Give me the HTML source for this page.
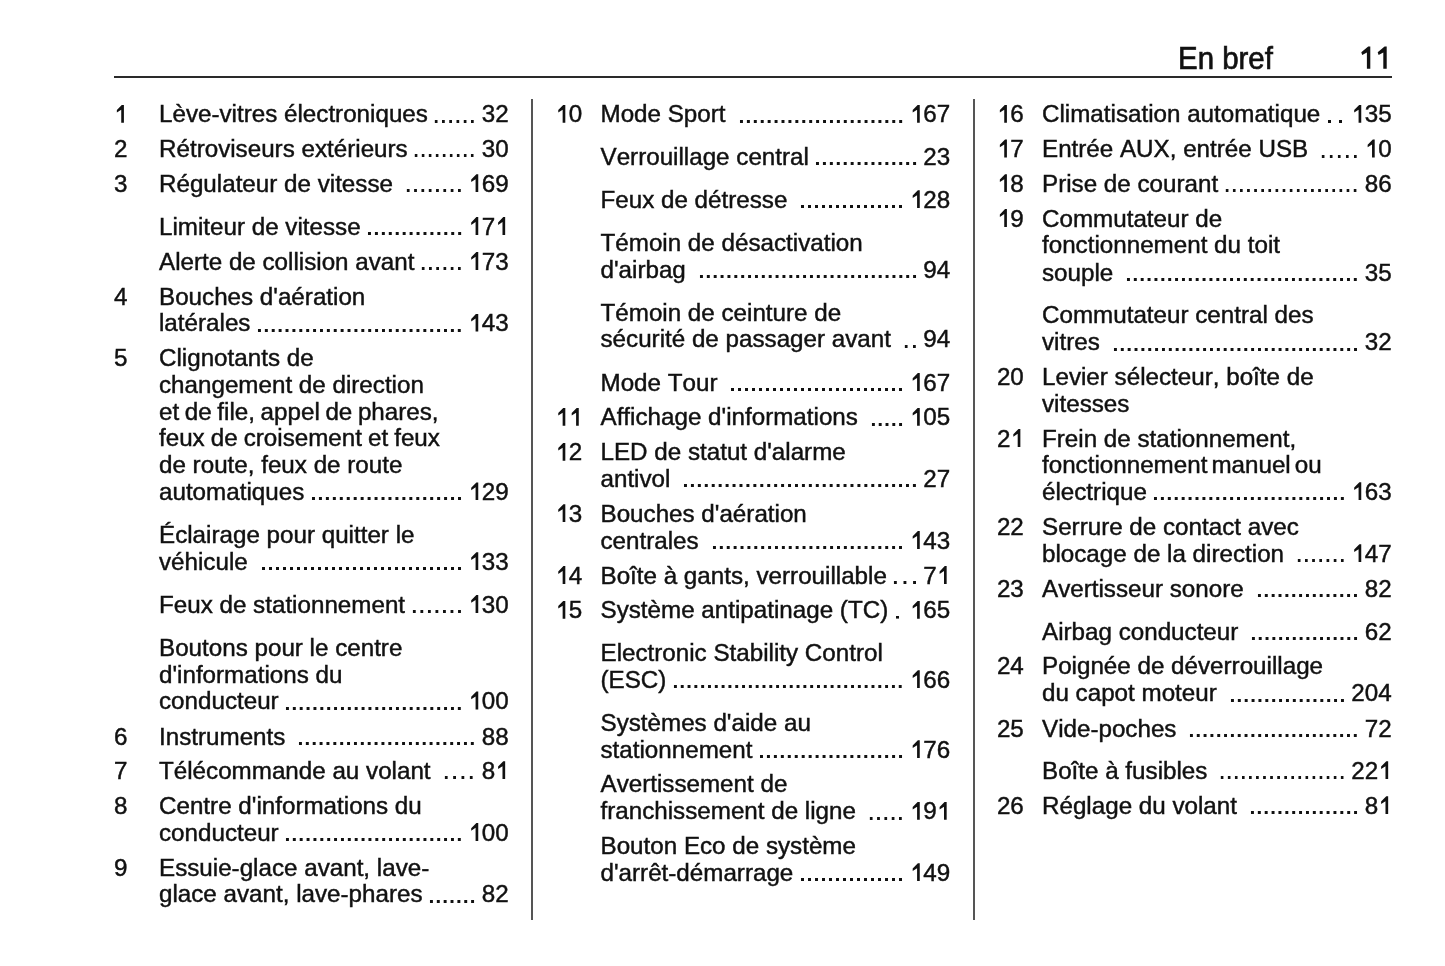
<!DOCTYPE html>
<html><head><meta charset="utf-8"><title>En bref 11</title>
<style>
html,body{margin:0;padding:0;background:#fff;}
body{width:1445px;height:966px;position:relative;overflow:hidden;will-change:transform;font-family:"Liberation Sans",sans-serif;color:#111;font-kerning:none;}
.hd{position:absolute;font-size:32px;line-height:36px;white-space:nowrap;transform-origin:0 0;transform:scaleX(0.92);-webkit-text-stroke:0.7px #111;}
.rule{position:absolute;background:#2a2a2a;}
.vr{position:absolute;background:#555;width:1.7px;}
.n{position:absolute;font-size:24.2px;line-height:27px;white-space:nowrap;-webkit-text-stroke:0.45px #111;}
.l{position:absolute;font-size:24.2px;line-height:27px;white-space:nowrap;display:flex;-webkit-text-stroke:0.45px #111;}
.l .t{flex:none;}
.l .d{flex:1 1 auto;margin:0 5.5px 0 5.5px;background-image:linear-gradient(90deg,transparent 2.1px,#111 2.1px,#111 4.7px,transparent 4.7px);background-size:6.8px 2.6px;background-repeat:space no-repeat;background-position:0 19.45px;}
.l .d.sp{margin-left:12.0px;}
.l .d.t8{background-size:8px 2.6px;}
.l .d.t9{background-size:9px 2.6px;}
.l .d.t10{background-size:10px 2.6px;}
.l .d.t14{background-size:14px 2.6px;}
.l .p{flex:none;}
.o{position:relative;color:transparent;-webkit-text-stroke:0 transparent;font-style:normal;}
.o::before{content:"";position:absolute;left:0;width:0.5562em;bottom:0.19em;height:0.745em;background:#111;-webkit-text-stroke:0;clip-path:polygon(74.5% 100%,54.6% 100%,54.6% 27.5%,22% 43.5%,22% 29.5%,60.5% 0%,74.5% 0%);}
</style></head><body>

<div class="n" style="left:113.9px;top:100.3px"><i class="o">1</i></div>
<div class="l" style="left:159.0px;top:100.3px;width:349.6px"><span class="t">Lève-vitres électroniques</span><span class="d"></span><span class="p">32</span></div>
<div class="n" style="left:113.9px;top:135.0px">2</div>
<div class="l" style="left:159.0px;top:135.0px;width:349.6px"><span class="t">Rétroviseurs extérieurs</span><span class="d"></span><span class="p">30</span></div>
<div class="n" style="left:113.9px;top:169.9px">3</div>
<div class="l" style="left:159.0px;top:169.9px;width:349.6px"><span class="t">Régulateur de vitesse</span><span class="d sp"></span><span class="p"><i class="o">1</i>69</span></div>
<div class="l" style="left:159.0px;top:212.7px;width:349.6px"><span class="t">Limiteur de vitesse</span><span class="d"></span><span class="p"><i class="o">1</i>7<i class="o">1</i></span></div>
<div class="l" style="left:159.0px;top:247.5px;width:349.6px"><span class="t">Alerte de collision avant</span><span class="d"></span><span class="p"><i class="o">1</i>73</span></div>
<div class="n" style="left:113.9px;top:282.5px">4</div>
<div class="l" style="left:159.0px;top:282.5px">Bouches d'aération</div>
<div class="l" style="left:159.0px;top:309.2px;width:349.6px"><span class="t">latérales</span><span class="d"></span><span class="p"><i class="o">1</i>43</span></div>
<div class="n" style="left:113.9px;top:344.1px">5</div>
<div class="l" style="left:159.0px;top:344.1px">Clignotants de</div>
<div class="l" style="left:159.0px;top:370.7px">changement de direction</div>
<div class="l" style="left:159.0px;top:397.8px"><span style="word-spacing:-1.1px">et de file, appel de phares,</span></div>
<div class="l" style="left:159.0px;top:424.2px"><span style="word-spacing:-0.7px">feux de croisement et feux</span></div>
<div class="l" style="left:159.0px;top:451.2px">de route, feux de route</div>
<div class="l" style="left:159.0px;top:478.0px;width:349.6px"><span class="t">automatiques</span><span class="d"></span><span class="p"><i class="o">1</i>29</span></div>
<div class="l" style="left:159.0px;top:521.2px">Éclairage pour quitter le</div>
<div class="l" style="left:159.0px;top:547.9px;width:349.6px"><span class="t">véhicule</span><span class="d sp"></span><span class="p"><i class="o">1</i>33</span></div>
<div class="l" style="left:159.0px;top:590.6px;width:349.6px"><span class="t">Feux de stationnement</span><span class="d"></span><span class="p"><i class="o">1</i>30</span></div>
<div class="l" style="left:159.0px;top:633.9px">Boutons pour le centre</div>
<div class="l" style="left:159.0px;top:660.5px">d'informations du</div>
<div class="l" style="left:159.0px;top:687.1px;width:349.6px"><span class="t">conducteur</span><span class="d"></span><span class="p"><i class="o">1</i>00</span></div>
<div class="n" style="left:113.9px;top:722.5px">6</div>
<div class="l" style="left:159.0px;top:722.5px;width:349.6px"><span class="t">Instruments</span><span class="d sp"></span><span class="p">88</span></div>
<div class="n" style="left:113.9px;top:756.9px">7</div>
<div class="l" style="left:159.0px;top:756.9px;width:349.6px"><span class="t">Télécommande au volant</span><span class="d sp t8"></span><span class="p">8<i class="o">1</i></span></div>
<div class="n" style="left:113.9px;top:791.7px">8</div>
<div class="l" style="left:159.0px;top:791.7px">Centre d'informations du</div>
<div class="l" style="left:159.0px;top:818.5px;width:349.6px"><span class="t">conducteur</span><span class="d"></span><span class="p"><i class="o">1</i>00</span></div>
<div class="n" style="left:113.9px;top:853.5px">9</div>
<div class="l" style="left:159.0px;top:853.5px">Essuie-glace avant, lave-</div>
<div class="l" style="left:159.0px;top:880.3px;width:349.6px"><span class="t">glace avant, lave-phares</span><span class="d"></span><span class="p">82</span></div>
<div class="n" style="left:555.3px;top:100.4px"><i class="o">1</i>0</div>
<div class="l" style="left:600.5px;top:100.4px;width:349.6px"><span class="t">Mode Sport</span><span class="d sp"></span><span class="p"><i class="o">1</i>67</span></div>
<div class="l" style="left:600.5px;top:143.0px;width:349.6px"><span class="t">Verrouillage central</span><span class="d"></span><span class="p">23</span></div>
<div class="l" style="left:600.5px;top:185.9px;width:349.6px"><span class="t">Feux de détresse</span><span class="d sp"></span><span class="p"><i class="o">1</i>28</span></div>
<div class="l" style="left:600.5px;top:228.8px">Témoin de désactivation</div>
<div class="l" style="left:600.5px;top:255.7px;width:349.6px"><span class="t">d'airbag</span><span class="d sp"></span><span class="p">94</span></div>
<div class="l" style="left:600.5px;top:298.5px">Témoin de ceinture de</div>
<div class="l" style="left:600.5px;top:325.3px;width:349.6px"><span class="t">sécurité de passager avant</span><span class="d sp"></span><span class="p">94</span></div>
<div class="l" style="left:600.5px;top:368.6px;width:349.6px"><span class="t">Mode Tour</span><span class="d sp"></span><span class="p"><i class="o">1</i>67</span></div>
<div class="n" style="left:555.3px;top:403.4px"><i class="o">1</i><i class="o">1</i></div>
<div class="l" style="left:600.5px;top:403.4px;width:349.6px"><span class="t">Affichage d'informations</span><span class="d sp"></span><span class="p"><i class="o">1</i>05</span></div>
<div class="n" style="left:555.3px;top:438.3px"><i class="o">1</i>2</div>
<div class="l" style="left:600.5px;top:438.3px">LED de statut d'alarme</div>
<div class="l" style="left:600.5px;top:465.0px;width:349.6px"><span class="t">antivol</span><span class="d sp"></span><span class="p">27</span></div>
<div class="n" style="left:555.3px;top:499.9px"><i class="o">1</i>3</div>
<div class="l" style="left:600.5px;top:499.9px">Bouches d'aération</div>
<div class="l" style="left:600.5px;top:526.6px;width:349.6px"><span class="t">centrales</span><span class="d sp"></span><span class="p"><i class="o">1</i>43</span></div>
<div class="n" style="left:555.3px;top:561.7px"><i class="o">1</i>4</div>
<div class="l" style="left:600.5px;top:561.7px;width:349.6px"><span class="t">Boîte à gants, verrouillable</span><span class="d"></span><span class="p">7<i class="o">1</i></span></div>
<div class="n" style="left:555.3px;top:596.3px"><i class="o">1</i>5</div>
<div class="l" style="left:600.5px;top:596.3px;width:349.6px"><span class="t">Système antipatinage (TC)</span><span class="d t9"></span><span class="p"><i class="o">1</i>65</span></div>
<div class="l" style="left:600.5px;top:639.1px">Electronic Stability Control</div>
<div class="l" style="left:600.5px;top:665.9px;width:349.6px"><span class="t">(ESC)</span><span class="d"></span><span class="p"><i class="o">1</i>66</span></div>
<div class="l" style="left:600.5px;top:708.6px">Systèmes d'aide au</div>
<div class="l" style="left:600.5px;top:735.8px;width:349.6px"><span class="t">stationnement</span><span class="d"></span><span class="p"><i class="o">1</i>76</span></div>
<div class="l" style="left:600.5px;top:770.4px">Avertissement de</div>
<div class="l" style="left:600.5px;top:797.3px;width:349.6px"><span class="t">franchissement de ligne</span><span class="d sp"></span><span class="p"><i class="o">1</i>9<i class="o">1</i></span></div>
<div class="l" style="left:600.5px;top:832.2px">Bouton Eco de système</div>
<div class="l" style="left:600.5px;top:858.8px;width:349.6px"><span class="t">d'arrêt-démarrage</span><span class="d"></span><span class="p"><i class="o">1</i>49</span></div>
<div class="n" style="left:996.9px;top:100.4px"><i class="o">1</i>6</div>
<div class="l" style="left:1042.0px;top:100.4px;width:349.6px"><span class="t">Climatisation automatique</span><span class="d t9"></span><span class="p"><i class="o">1</i>35</span></div>
<div class="n" style="left:996.9px;top:135.1px"><i class="o">1</i>7</div>
<div class="l" style="left:1042.0px;top:135.1px;width:349.6px"><span class="t">Entrée AUX, entrée USB</span><span class="d sp"></span><span class="p"><i class="o">1</i>0</span></div>
<div class="n" style="left:996.9px;top:169.9px"><i class="o">1</i>8</div>
<div class="l" style="left:1042.0px;top:169.9px;width:349.6px"><span class="t">Prise de courant</span><span class="d"></span><span class="p">86</span></div>
<div class="n" style="left:996.9px;top:204.7px"><i class="o">1</i>9</div>
<div class="l" style="left:1042.0px;top:204.7px">Commutateur de</div>
<div class="l" style="left:1042.0px;top:231.2px">fonctionnement du toit</div>
<div class="l" style="left:1042.0px;top:258.7px;width:349.6px"><span class="t">souple</span><span class="d sp"></span><span class="p">35</span></div>
<div class="l" style="left:1042.0px;top:301.4px">Commutateur central des</div>
<div class="l" style="left:1042.0px;top:328.2px;width:349.6px"><span class="t">vitres</span><span class="d sp"></span><span class="p">32</span></div>
<div class="n" style="left:996.9px;top:363.0px">20</div>
<div class="l" style="left:1042.0px;top:363.0px">Levier sélecteur, boîte de</div>
<div class="l" style="left:1042.0px;top:389.8px">vitesses</div>
<div class="n" style="left:996.9px;top:424.5px">2<i class="o">1</i></div>
<div class="l" style="left:1042.0px;top:424.5px">Frein de stationnement,</div>
<div class="l" style="left:1042.0px;top:451.3px"><span style="word-spacing:-2.7px">fonctionnement manuel ou</span></div>
<div class="l" style="left:1042.0px;top:477.8px;width:349.6px"><span class="t">électrique</span><span class="d"></span><span class="p"><i class="o">1</i>63</span></div>
<div class="n" style="left:996.9px;top:513.1px">22</div>
<div class="l" style="left:1042.0px;top:513.1px">Serrure de contact avec</div>
<div class="l" style="left:1042.0px;top:539.8px;width:349.6px"><span class="t">blocage de la direction</span><span class="d sp"></span><span class="p"><i class="o">1</i>47</span></div>
<div class="n" style="left:996.9px;top:574.6px">23</div>
<div class="l" style="left:1042.0px;top:574.6px;width:349.6px"><span class="t">Avertisseur sonore</span><span class="d sp"></span><span class="p">82</span></div>
<div class="l" style="left:1042.0px;top:617.8px;width:349.6px"><span class="t">Airbag conducteur</span><span class="d sp"></span><span class="p">62</span></div>
<div class="n" style="left:996.9px;top:652.4px">24</div>
<div class="l" style="left:1042.0px;top:652.4px">Poignée de déverrouillage</div>
<div class="l" style="left:1042.0px;top:679.3px;width:349.6px"><span class="t">du capot moteur</span><span class="d sp"></span><span class="p">204</span></div>
<div class="n" style="left:996.9px;top:714.5px">25</div>
<div class="l" style="left:1042.0px;top:714.5px;width:349.6px"><span class="t">Vide-poches</span><span class="d sp"></span><span class="p">72</span></div>
<div class="l" style="left:1042.0px;top:756.9px;width:349.6px"><span class="t">Boîte à fusibles</span><span class="d sp"></span><span class="p">22<i class="o">1</i></span></div>
<div class="n" style="left:996.9px;top:791.9px">26</div>
<div class="l" style="left:1042.0px;top:791.9px;width:349.6px"><span class="t">Réglage du volant</span><span class="d sp"></span><span class="p">8<i class="o">1</i></span></div>
<div class="hd" style="left:1178.2px;top:39.6px">En bref</div>
<div class="hd" style="left:1358px;top:39.6px;color:transparent;-webkit-text-stroke:0 transparent">11</div>
<svg style="position:absolute;left:0;top:0" width="1445" height="100" viewBox="0 0 1445 100"><g fill="#111"><polygon points="1370.3,46.6 1370.3,68.65 1366.9,68.65 1366.9,52.6 1362.2,55.0 1361.3,52.2 1368.2,46.6"/><polygon points="1386.7,46.6 1386.7,68.65 1383.3000000000002,68.65 1383.3000000000002,52.6 1378.6000000000001,55.0 1377.7,52.2 1384.6000000000001,46.6"/></g></svg>
<div class="rule" style="left:114px;top:75.6px;width:1278px;height:2px"></div>
<div class="vr" style="left:531.2px;top:99px;height:821px"></div>
<div class="vr" style="left:972.9px;top:99px;height:821px"></div>
</body></html>
